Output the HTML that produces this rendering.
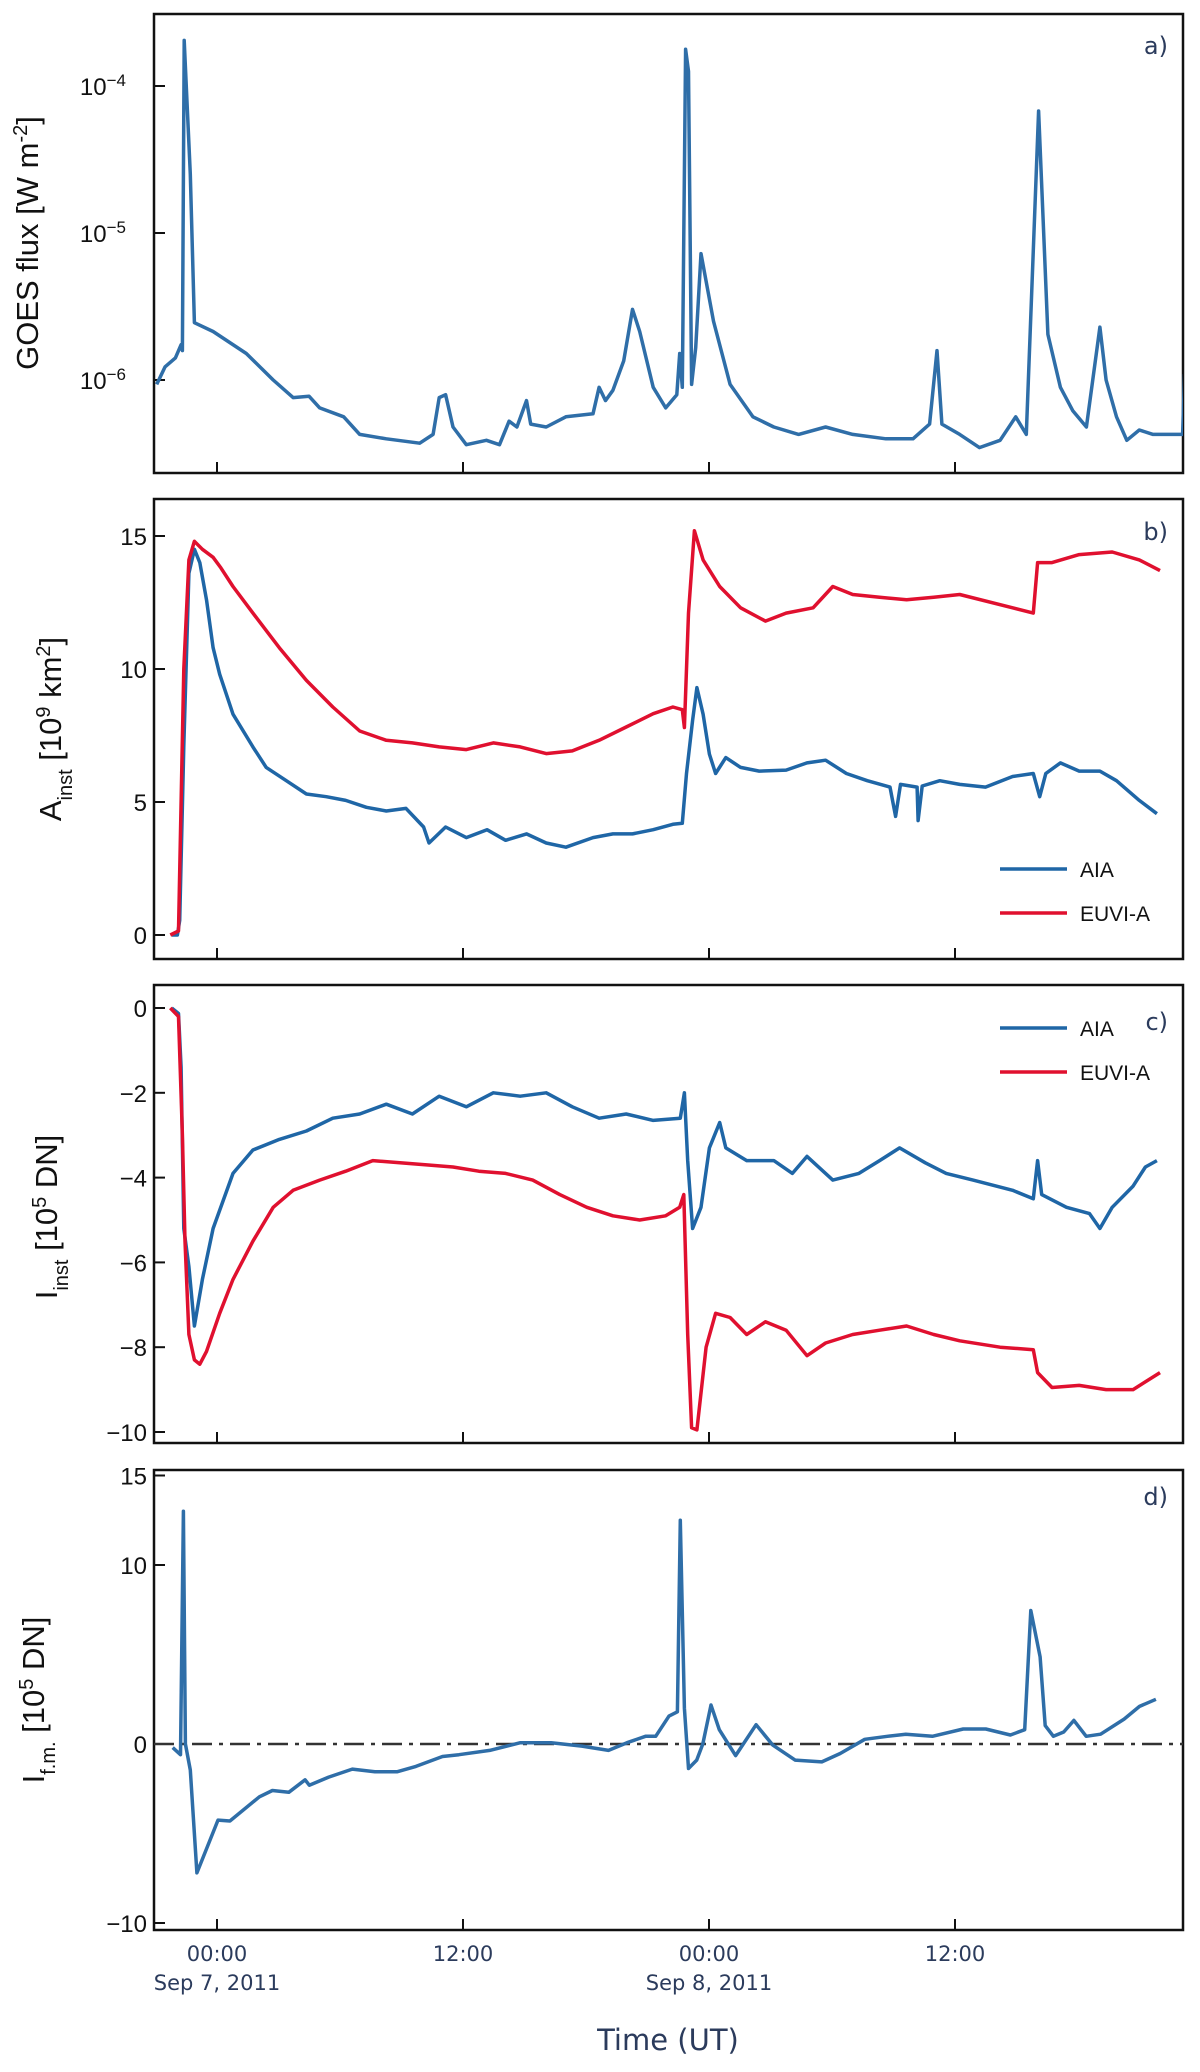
<!DOCTYPE html>
<html><head><meta charset="utf-8">
<style>
html,body{margin:0;padding:0;background:#fff;}
svg{display:block;font-family:"Liberation Sans",sans-serif;}
.tl{font-size:24px;fill:#111;}
.tt{font-family:"DejaVu Sans",sans-serif;font-size:21px;fill:#2b3b5c;}
.pl{font-family:"DejaVu Sans",sans-serif;font-size:24px;fill:#2b3b5c;}
.at{font-size:31px;fill:#111;}
.lg{font-size:21px;fill:#111;}
</style></head>
<body>
<svg id="fig" width="1200" height="2072" viewBox="0 0 1200 2072" xmlns="http://www.w3.org/2000/svg">
<defs>
<clipPath id="ca"><rect x="154" y="14" width="1029" height="459"/></clipPath>
<clipPath id="cb"><rect x="154" y="499" width="1029" height="460"/></clipPath>
<clipPath id="cc"><rect x="154" y="985" width="1029" height="458"/></clipPath>
<clipPath id="cd"><rect x="154" y="1470" width="1029" height="460"/></clipPath>
</defs>
<g id="marks"></g>
<text class="at" transform="translate(38,243) rotate(-90)" text-anchor="middle">GOES flux [W m<tspan baseline-shift="super" font-size="20">-2</tspan>]</text>
<text class="at" transform="translate(61,729) rotate(-90)" text-anchor="middle">A<tspan baseline-shift="sub" font-size="20">inst</tspan> [10<tspan baseline-shift="super" font-size="20">9</tspan> km<tspan baseline-shift="super" font-size="20">2</tspan>]</text>
<text class="at" transform="translate(57,1217) rotate(-90)" text-anchor="middle">I<tspan baseline-shift="sub" font-size="20">inst</tspan> [10<tspan baseline-shift="super" font-size="20">5</tspan> DN]</text>
<text class="at" transform="translate(44,1700) rotate(-90)" text-anchor="middle">I<tspan baseline-shift="sub" font-size="20">f.m.</tspan> [10<tspan baseline-shift="super" font-size="20">5</tspan> DN]</text>
<text x="668" y="2050" text-anchor="middle" class="pl" style="font-size:29px">Time (UT)</text>
<text x="1168" y="54" text-anchor="end" class="pl">a)</text>
<text x="1168" y="540" text-anchor="end" class="pl">b)</text>
<text x="1168" y="1030" text-anchor="end" class="pl">c)</text>
<text x="1168" y="1505" text-anchor="end" class="pl">d)</text>
<g>
<line x1="1000" y1="869" x2="1067" y2="869" stroke="#1f66a6" stroke-width="3.5"/>
<text x="1080" y="877" class="lg">AIA</text>
<line x1="1000" y1="913" x2="1067" y2="913" stroke="#e0102f" stroke-width="3.5"/>
<text x="1080" y="921" class="lg">EUVI-A</text>
</g>
<g>
<line x1="1000" y1="1028" x2="1067" y2="1028" stroke="#1f66a6" stroke-width="3.5"/>
<text x="1080" y="1036" class="lg">AIA</text>
<line x1="1000" y1="1072" x2="1067" y2="1072" stroke="#e0102f" stroke-width="3.5"/>
<text x="1080" y="1080" class="lg">EUVI-A</text>
</g>
</svg>
<script>
// hours relative to Sep 7 2011 00:00 UT
const goesT=[-2.94,-2.53,-2.03,-1.75,-1.69,-1.6,-1.3,-1.1,-0.19,1.43,2.74,3.71,4.49,5.01,6.18,6.96,8.26,9.89,10.54,10.84,11.15,11.51,12.16,13.14,13.78,14.25,14.63,15.1,15.3,16.06,17.02,18.34,18.64,18.95,19.31,19.84,20.27,20.62,21.28,21.89,22.43,22.57,22.7,22.86,23.0,23.15,23.35,23.61,24.22,25.03,26.14,27.16,28.37,29.69,31.01,32.63,33.95,34.76,35.12,35.36,36.23,37.19,38.2,38.96,39.48,40.08,40.53,41.14,41.75,42.41,43.07,43.37,43.88,44.38,44.99,45.66,46.61,47.1,47.2];
const goesLog=[-6.03,-5.91,-5.85,-5.76,-5.8,-3.69,-4.6,-5.61,-5.67,-5.82,-6.0,-6.12,-6.11,-6.19,-6.25,-6.37,-6.4,-6.43,-6.37,-6.12,-6.1,-6.32,-6.44,-6.41,-6.44,-6.28,-6.32,-6.14,-6.3,-6.32,-6.25,-6.23,-6.05,-6.14,-6.07,-5.87,-5.52,-5.67,-6.05,-6.19,-6.1,-5.82,-6.05,-3.75,-3.9,-6.03,-5.78,-5.14,-5.6,-6.03,-6.25,-6.32,-6.37,-6.32,-6.37,-6.4,-6.4,-6.3,-5.8,-6.3,-6.37,-6.46,-6.41,-6.25,-6.37,-4.17,-5.69,-6.05,-6.21,-6.32,-5.64,-6.0,-6.25,-6.41,-6.34,-6.37,-6.37,-6.37,-5.96];
const goesTicks=[-4,-5,-6];

const aAiaT=[-2.21,-1.93,-1.82,-1.62,-1.37,-1.1,-0.84,-0.51,-0.19,0.13,0.78,1.75,2.4,3.38,4.36,5.33,6.28,7.29,8.26,9.22,10.08,10.34,11.15,12.16,13.17,14.08,15.1,16.06,17.02,18.34,19.31,20.27,21.28,22.24,22.7,22.9,23.2,23.41,23.71,24.02,24.32,24.82,25.54,26.45,27.76,28.78,29.69,30.7,31.72,32.83,33.1,33.34,34.15,34.2,34.4,35.26,36.23,37.49,38.81,39.82,40.13,40.43,41.14,42.06,43.07,43.88,44.99,45.85];
const aAiaV=[0,0,0.55,7.1,13.6,14.5,14.0,12.6,10.8,9.8,8.3,7.07,6.3,5.8,5.3,5.2,5.06,4.8,4.66,4.76,4.06,3.46,4.06,3.66,3.96,3.56,3.8,3.46,3.3,3.66,3.8,3.8,3.96,4.16,4.2,6.07,8.07,9.3,8.3,6.8,6.07,6.67,6.3,6.16,6.2,6.47,6.57,6.07,5.8,5.56,4.46,5.66,5.56,4.3,5.6,5.8,5.66,5.56,5.96,6.07,5.2,6.07,6.47,6.16,6.16,5.8,5.06,4.56];
const aEuviT=[-2.28,-1.88,-1.62,-1.37,-1.1,-0.71,-0.19,0.19,0.78,1.75,3.04,4.36,5.65,6.96,8.26,9.53,10.84,12.16,13.48,14.79,16.06,17.33,18.64,19.96,21.28,22.24,22.7,22.8,23.0,23.29,23.71,24.52,25.54,26.75,27.76,29.08,30.04,31.01,32.32,33.64,34.96,36.23,38.81,39.82,40.03,40.73,42.06,43.67,44.99,46.0];
const aEuviV=[0,0.15,10,14.1,14.8,14.5,14.2,13.8,13.1,12.1,10.8,9.57,8.57,7.67,7.32,7.22,7.07,6.97,7.22,7.07,6.82,6.92,7.32,7.82,8.32,8.57,8.47,7.8,12.1,15.2,14.1,13.1,12.3,11.8,12.1,12.3,13.1,12.8,12.7,12.6,12.7,12.8,12.3,12.1,14.0,14.0,14.3,14.4,14.1,13.7];
const aTicks=[0,5,10,15];

const iAiaT=[-2.21,-1.88,-1.75,-1.62,-1.37,-1.1,-0.71,-0.19,0.78,1.75,3.04,4.36,5.65,6.96,8.26,9.53,10.84,12.16,13.48,14.79,16.06,17.33,18.64,19.96,21.28,22.6,22.8,22.96,23.2,23.61,24.02,24.52,24.82,25.84,27.16,28.07,28.78,30.04,31.31,32.32,33.3,34.55,35.57,36.88,38.81,39.82,40.03,40.23,41.44,42.56,43.07,43.67,44.69,45.29,45.85];
const iAiaV=[0,-0.13,-1.4,-5.2,-6.1,-7.5,-6.4,-5.2,-3.9,-3.35,-3.1,-2.9,-2.6,-2.5,-2.27,-2.5,-2.08,-2.33,-2.0,-2.08,-2.0,-2.33,-2.6,-2.5,-2.65,-2.6,-2.0,-3.6,-5.2,-4.7,-3.3,-2.7,-3.3,-3.6,-3.6,-3.9,-3.5,-4.06,-3.9,-3.6,-3.3,-3.65,-3.9,-4.06,-4.3,-4.5,-3.6,-4.4,-4.7,-4.85,-5.2,-4.7,-4.2,-3.75,-3.6];
const iEuviT=[-2.28,-1.88,-1.69,-1.56,-1.37,-1.1,-0.84,-0.51,0.13,0.78,1.75,2.74,3.71,5.01,6.28,7.6,8.92,10.23,11.51,12.77,14.08,15.4,16.72,18.04,19.31,20.62,21.89,22.57,22.77,22.96,23.15,23.41,23.86,24.32,25.03,25.84,26.75,27.76,28.78,29.69,31.01,32.32,33.64,34.96,36.23,38.2,39.82,40.03,40.73,42.06,43.37,44.69,46.0];
const iEuviV=[0,-0.2,-3.0,-5.5,-7.7,-8.3,-8.4,-8.1,-7.2,-6.4,-5.5,-4.7,-4.3,-4.06,-3.85,-3.6,-3.65,-3.7,-3.75,-3.85,-3.9,-4.06,-4.4,-4.7,-4.9,-5.0,-4.9,-4.7,-4.4,-7.7,-9.9,-9.95,-8.0,-7.2,-7.3,-7.7,-7.4,-7.6,-8.2,-7.9,-7.7,-7.6,-7.5,-7.7,-7.85,-8.0,-8.06,-8.6,-8.95,-8.9,-9.0,-9.0,-8.6];
const iTicks=[0,-2,-4,-6,-8,-10];

const fmT=[-2.16,-1.78,-1.64,-1.54,-1.3,-0.98,0.05,0.63,2.07,2.7,3.5,4.3,4.5,5.45,6.6,7.7,8.8,9.7,11.0,11.8,13.3,14.8,16.3,17.8,19.1,20.0,20.9,21.4,22.05,22.46,22.6,22.8,23.0,23.4,23.7,24.1,24.5,25.3,26.3,27.1,28.2,29.5,30.4,31.6,32.7,33.6,34.9,36.4,37.5,38.7,39.4,39.7,40.15,40.4,40.8,41.3,41.8,42.4,43.1,44.25,45.0,45.8];
const fmV=[-0.2,-0.6,13.0,0,-1.45,-7.2,-4.25,-4.3,-2.95,-2.6,-2.7,-2.0,-2.3,-1.85,-1.4,-1.55,-1.55,-1.25,-0.7,-0.6,-0.36,0.07,0.07,-0.12,-0.36,0.07,0.43,0.43,1.56,1.8,12.5,2.0,-1.37,-0.9,0,2.18,0.8,-0.65,1.08,-0.05,-0.9,-1.0,-0.53,0.26,0.43,0.55,0.43,0.84,0.84,0.5,0.8,7.46,4.87,1.03,0.43,0.67,1.32,0.43,0.55,1.39,2.1,2.5];
const fmTicks=[-10,0,10,15];

const xTickHours=[0,12,24,36];
const xTickTimes=["00:00","12:00","00:00","12:00"];
const xTickDates=["Sep 7, 2011","","Sep 8, 2011",""];

const NS="http://www.w3.org/2000/svg";
const L=154,R=1183;
function X(h){return 217+h*20.5;}
const panels={
 a:{top:14,bot:473,Y:v=>86+(-4-v)*147},
 b:{top:499,bot:959,Y:v=>935-v*26.6},
 c:{top:985,bot:1443,Y:v=>1008-v*42.4},
 d:{top:1470,bot:1930,Y:v=>1744-v*17.9}
};
const g=document.getElementById('marks');
function el(tag,attrs,parent){const e=document.createElementNS(NS,tag);for(const k in attrs)e.setAttribute(k,attrs[k]);(parent||g).appendChild(e);return e;}
function line(ts,vs,p,color,clip,name){
  let d='';for(let i=0;i<ts.length;i++){d+=(i?'L':'M')+X(ts[i]).toFixed(1)+' '+p.Y(vs[i]).toFixed(1);}
  const e=el('path',{d:d,fill:'none',stroke:color,'stroke-width':3.5,'stroke-linejoin':'round','clip-path':'url(#'+clip+')'});
  
  
}
function frame(key,name){
  const p=panels[key];
  const r=el('rect',{x:L,y:p.top,width:R-L,height:p.bot-p.top,fill:'none',stroke:'#111','stroke-width':2.5});
  
  
  for(let i=0;i<xTickHours.length;i++){
    const x=X(xTickHours[i]);
    const t=el('line',{x1:x,x2:x,y1:p.bot,y2:p.bot-11,stroke:'#111','stroke-width':2});
    
    
  }
}
function yticks(key,vals,fmt){
  const p=panels[key];
  vals.forEach(v=>{
    const y=p.Y(v);
    const t=el('line',{x1:L,x2:L+11,y1:y,y2:y,stroke:'#111','stroke-width':2});
    
    
    const tx=el('text',{x:147,y:y+9,'text-anchor':'end',class:'tl'});
    
    
    fmt(tx,v);
  });
}
frame('a','panel-a-frame');frame('b','panel-b-frame');frame('c','panel-c-frame');frame('d','panel-d-frame');
yticks('a',goesTicks,(tx,v)=>{tx.setAttribute('x',126);tx.textContent='10';const s=el('tspan',{'baseline-shift':'super','font-size':'17'},tx);s.textContent='\u2212'+(-v);});
yticks('b',aTicks,(tx,v)=>{tx.textContent=String(v);});
yticks('c',iTicks,(tx,v)=>{tx.textContent=v<0?'\u2212'+(-v):String(v);});
yticks('d',fmTicks,(tx,v)=>{tx.textContent=v<0?'\u2212'+(-v):String(v);});
const zl=el('line',{x1:L,x2:R,y1:panels.d.Y(0),y2:panels.d.Y(0),stroke:'#333','stroke-width':2.5,'stroke-dasharray':'20 7 4 7'});


line(goesT,goesLog,panels.a,'#2f6ea8','ca','goes-flux-line');
line(aAiaT,aAiaV,panels.b,'#1f66a6','cb','area-aia-line');
line(aEuviT,aEuviV,panels.b,'#e0102f','cb','area-euvi-line');
line(iAiaT,iAiaV,panels.c,'#1f66a6','cc','intensity-aia-line');
line(iEuviT,iEuviV,panels.c,'#e0102f','cc','intensity-euvi-line');
line(fmT,fmV,panels.d,'#2f6ea8','cd','flare-masked-line');
for(let i=0;i<xTickHours.length;i++){
  const x=X(xTickHours[i]);
  const a=el('text',{x:x,y:1961,'text-anchor':'middle',class:'tt'});
  
  
  a.textContent=xTickTimes[i];
  if(xTickDates[i]){
    const b=el('text',{x:x,y:1990,'text-anchor':'middle',class:'tt'});
    
    
    b.textContent=xTickDates[i];
  }
}
</script>
</body></html>
